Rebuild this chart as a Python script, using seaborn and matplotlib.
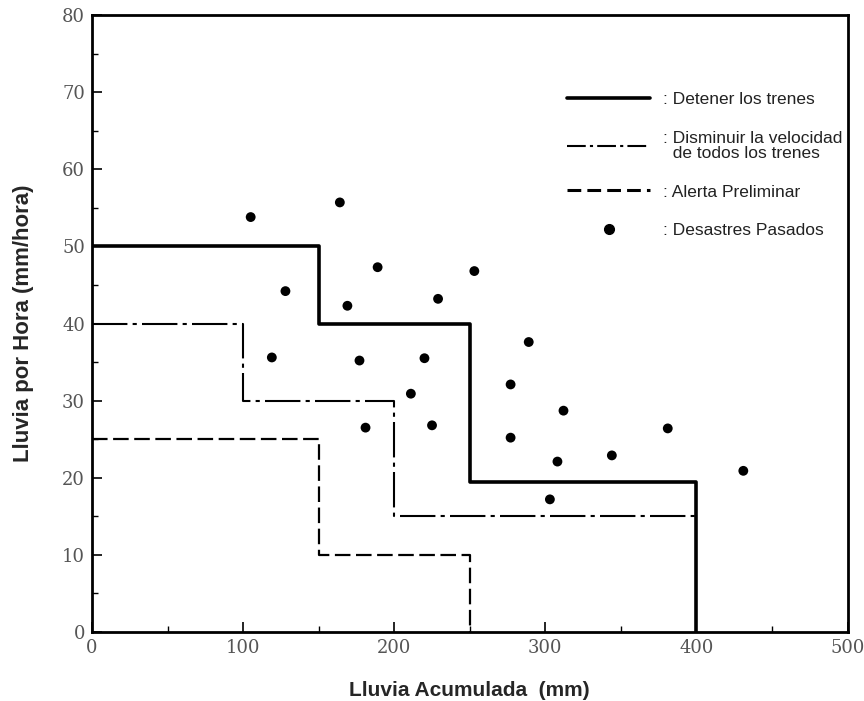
"""
Umbrales de lluvia para la operación de trenes (recreación del gráfico).
"""

import matplotlib
matplotlib.use("Agg")
import matplotlib.pyplot as plt
from matplotlib.lines import Line2D
from matplotlib.ticker import MultipleLocator
import numpy as np
import pandas as pd
import seaborn as sns

# ------------------------------------------------------------------------
#  Datos
# ------------------------------------------------------------------------

# umbrales escalonados: lluvia acumulada (inicio de tramo) -> lluvia por hora
stop_x = [0, 150, 250, 400]
stop_y = [50, 40, 19.5, 0]

slow_x = [0, 100, 200, 400]
slow_y = [40, 30, 15, 15]

alert_x = [0, 150, 250]
alert_y = [25, 10, 0]

# desastres pasados
disaster_x = [105, 164, 128, 189, 169, 253, 229, 119, 177, 220, 211, 181,
              225, 289, 277, 312, 277, 308, 303, 344, 381, 431]
disaster_y = [53.8, 55.7, 44.2, 47.3, 42.3, 46.8, 43.2, 35.6, 35.2, 35.5,
              30.9, 26.5, 26.8, 37.6, 32.1, 28.7, 25.2, 22.1, 17.2, 22.9,
              26.4, 20.9]

labels = [": Detener los trenes",
          ": Disminuir la velocidad\n  de todos los trenes",
          ": Alerta Preliminar",
          ": Desastres Pasados"]

x_ticks = [0, 100, 200, 300, 400, 500]
y_ticks = [0, 10, 20, 30, 40, 50, 60, 70, 80]

# ------------------------------------------------------------------------
#  Figura
# ------------------------------------------------------------------------

sns.set_style("ticks")
plt.rcParams["font.family"] = ["Liberation Sans", "DejaVu Sans"]

fig = plt.figure(figsize=(8.64, 7.01), dpi=100)
ax = fig.add_axes([0.1065, 0.0984, 0.8745, 0.8802])

DASHDOT = (0, (17, 2.5, 2, 2.5))
DASHED = (0, (7, 2.5))

sns.lineplot(x=stop_x, y=stop_y, sort=False, drawstyle="steps-post",
             color="black", linewidth=2.6, ax=ax)
sns.lineplot(x=slow_x, y=slow_y, sort=False, drawstyle="steps-post",
             color="black", linewidth=1.5, linestyle=DASHDOT, ax=ax)
sns.lineplot(x=alert_x, y=alert_y, sort=False, drawstyle="steps-post",
             color="black", linewidth=1.6, linestyle=DASHED, ax=ax)
sns.scatterplot(x=disaster_x, y=disaster_y, color="black", s=50,
                edgecolor="none", ax=ax, zorder=3)

ax.set_xlim(0, 500)
ax.set_ylim(0, 80)
ax.set_xticks(x_ticks)
ax.set_yticks(y_ticks)
ax.xaxis.set_minor_locator(MultipleLocator(50))
ax.yaxis.set_minor_locator(MultipleLocator(5))
ax.tick_params(which="both", direction="in", color="black", top=False, right=False)
ax.tick_params(which="major", length=7, width=1.2, pad=5,
               labelsize=13, labelcolor="#555555")
ax.tick_params(which="minor", length=4, width=1.0)
for lab in ax.get_xticklabels() + ax.get_yticklabels():
    lab.set_family("DejaVu Serif")

for sp in ax.spines.values():
    sp.set_visible(True)
    sp.set_color("black")
    sp.set_linewidth(2.0)

ax.set_xlabel("Lluvia Acumulada  (mm)", fontsize=15, fontweight="bold", labelpad=17)
ax.set_ylabel("Lluvia por Hora (mm/hora)", fontsize=16, fontweight="bold", labelpad=20)

handles = [
    Line2D([], [], color="black", linewidth=2.6),
    Line2D([], [], color="black", linewidth=1.5, linestyle=(0, (9, 2, 1.5, 2))),
    Line2D([], [], color="black", linewidth=2.2, linestyle=(0, (4.5, 2))),
    Line2D([], [], color="black", marker="o", markersize=7, linestyle="none"),
]
leg = ax.legend(handles, labels, loc="upper left", bbox_to_anchor=(0.608, 0.90),
                frameon=False, fontsize=12.5, handlelength=4.8, handletextpad=0.7,
                labelspacing=1.35, labelcolor="#222222")
for t in leg.get_texts():
    t.set_linespacing(1.0)

fig.savefig("out.png", dpi=100)
plt.close(fig)
